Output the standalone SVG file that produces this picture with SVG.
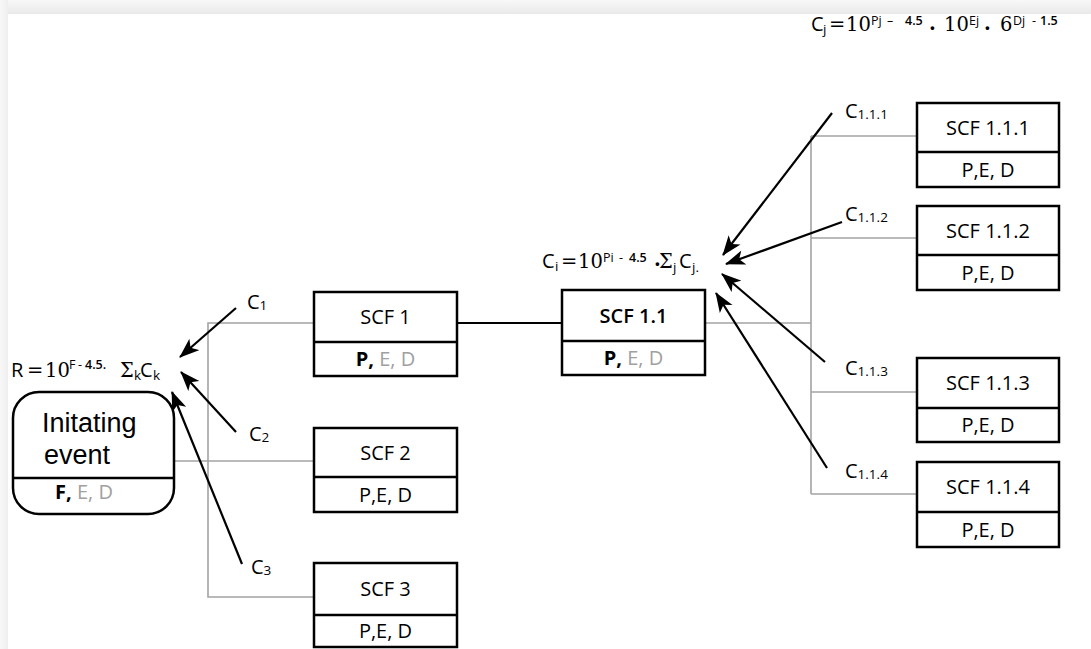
<svg xmlns="http://www.w3.org/2000/svg" width="1091" height="649" viewBox="0 0 1091 649">
<defs>
<linearGradient id="gTop" x1="0" y1="0" x2="0" y2="1"><stop offset="0" stop-color="#f8f8f8"/><stop offset="1" stop-color="#e9e9e9"/></linearGradient>
<linearGradient id="gLeft" x1="0" y1="0" x2="1" y2="0"><stop offset="0" stop-color="#f8f8f8"/><stop offset="1" stop-color="#eeeeee"/></linearGradient>
<marker id="ah" markerUnits="userSpaceOnUse" markerWidth="22" markerHeight="16" refX="19" refY="7.5" orient="auto"><path d="M0,0 L20,7.5 L0,15 L5,7.5 z" fill="#000"/></marker>
<style>
.box{fill:#fff;stroke:#000;stroke-width:2.5}
.div{stroke:#000;stroke-width:2.5}
.gl{stroke:#a3a3a3;stroke-width:1.6;fill:none}
.bl{stroke:#000;stroke-width:2;fill:none}
.ar{stroke:#000;stroke-width:2.2;fill:none;marker-end:url(#ah)}
.t{font-family:"Open Sans","Noto Sans",sans-serif;font-size:20px;fill:#000;text-anchor:middle}
.gr{fill:#a0a0a0}
.b{font-weight:700}
.sb{font-weight:600}
.lab{font-family:"Open Sans","Noto Sans",sans-serif;font-size:20px;fill:#000}
.sub{font-family:"Open Sans","Noto Sans",sans-serif;font-size:13.5px;fill:#000}
.fs{font-family:"Open Sans","Noto Sans",sans-serif;font-size:20px;fill:#000}
.fm{font-family:"DejaVu Serif","Liberation Serif",serif;font-size:19.5px;fill:#000}
.sup{font-family:"Open Sans","Noto Sans",sans-serif;font-size:12.5px;fill:#000}
.ev{font-family:"Liberation Sans",Arial,sans-serif;font-size:27px;fill:#000}
</style>
</defs>
<rect x="0" y="0" width="1091" height="649" fill="#fff"/>
<rect x="0" y="0" width="1091" height="14" fill="url(#gTop)"/>
<rect x="0" y="0" width="8" height="649" fill="url(#gLeft)"/>

<g id="connectors">
<line class="gl" x1="174" y1="461" x2="314" y2="461"/>
<polyline class="gl" points="314,323 208,323 208,597 314,597"/>
<line class="bl" x1="457" y1="323" x2="562" y2="323"/>
<line class="gl" x1="705" y1="323" x2="811" y2="323"/>
<line class="gl" x1="811" y1="136" x2="811" y2="494"/>
<line class="gl" x1="811" y1="136" x2="917" y2="136"/>
<line class="gl" x1="811" y1="238" x2="917" y2="238"/>
<line class="gl" x1="811" y1="392" x2="917" y2="392"/>
<line class="gl" x1="811" y1="494" x2="917" y2="494"/>
<line class="ar" x1="236" y1="308" x2="180" y2="357"/>
<line class="ar" x1="236" y1="432" x2="181" y2="372"/>
<line class="ar" x1="242" y1="564" x2="172" y2="392"/>
<line class="ar" x1="832" y1="113" x2="723" y2="255"/>
<line class="ar" x1="842" y1="222" x2="726" y2="264"/>
<line class="ar" x1="825" y1="362" x2="722" y2="274"/>
<line class="ar" x1="827" y1="468" x2="716" y2="293"/>
</g>

<g id="labels">
<text class="lab" x="247" y="309">C<tspan class="sub" dy="1">1</tspan></text>
<text class="lab" x="249" y="441">C<tspan class="sub" dy="1">2</tspan></text>
<text class="lab" x="251" y="574">C<tspan class="sub" dy="1">3</tspan></text>
<text class="lab" x="845" y="118">C<tspan class="sub" dy="1">1.1.1</tspan></text>
<text class="lab" x="845" y="221">C<tspan class="sub" dy="1">1.1.2</tspan></text>
<text class="lab" x="845" y="375">C<tspan class="sub" dy="1">1.1.3</tspan></text>
<text class="lab" x="845" y="478">C<tspan class="sub" dy="1">1.1.4</tspan></text>
</g>

<g id="formula-R">
<text class="fs" x="11" y="377">R</text>
<text class="fm" x="27" y="377">=</text>
<text class="fm" x="45" y="377">10</text>
<text class="sup" x="69" y="369" font-size="11">F</text>
<text class="sup" x="78" y="369" font-size="11">-</text>
<text class="sup sb" x="85" y="369" font-size="11">4.5.</text>
<text class="fm" x="120" y="377" font-size="16">Σ</text>
<text class="sub" x="134" y="380" font-size="11">k</text>
<text class="fs" x="140" y="377">C</text>
<text class="sub" x="153" y="380" font-size="11">k</text>
</g>

<g id="formula-Ci">
<text class="fs" x="542" y="268">C</text>
<text class="sub" x="555" y="271" font-size="12">i</text>
<text class="fm" x="561" y="268">=</text>
<text class="fm" x="578" y="268">10</text>
<text class="sup" x="603" y="262">Pi</text>
<text class="sup" x="619" y="262">-</text>
<text class="sup sb" x="629" y="262">4.5</text>
<text class="fm b" x="654" y="266">.</text>
<text class="fm" x="659" y="268" font-size="16">Σ</text>
<text class="sub" x="673" y="272" font-size="12">j</text>
<text class="fs" x="679" y="268">C</text>
<text class="sub" x="692" y="272" font-size="12">j.</text>
</g>

<g id="formula-Cj">
<text class="fs" x="811" y="31">C</text>
<text class="sub" x="823" y="34" font-size="12">j</text>
<text class="fm" x="829" y="31">=</text>
<text class="fm" x="846" y="31">10</text>
<text class="sup" x="871" y="25">Pj</text>
<text class="sup" x="887" y="25">–</text>
<text class="sup sb" x="905" y="25">4.5</text>
<text class="fm b" x="929" y="30">.</text>
<text class="fm" x="944" y="31">10</text>
<text class="sup" x="969" y="25">Ej</text>
<text class="fm b" x="984" y="30">.</text>
<text class="fm" x="1000" y="31">6</text>
<text class="sup" x="1013" y="25">Dj</text>
<text class="sup" x="1032" y="25">-</text>
<text class="sup sb" x="1040" y="25">1.5</text>
</g>

<g id="initiating-event">
<rect class="box" x="13" y="392" width="161" height="122" rx="26" ry="26"/>
<line class="div" x1="13" y1="478" x2="174" y2="478"/>
<text class="ev" x="42" y="432">Initating</text>
<text class="ev" x="44" y="464">event</text>
<text class="t" x="84" y="499"><tspan class="b">F,</tspan><tspan class="gr"> E, D</tspan></text>
</g>

<g id="scf1">
<rect class="box" x="314" y="292" width="143" height="84"/>
<line class="div" x1="314" y1="342" x2="457" y2="342"/>
<text class="t" x="385.5" y="324">SCF 1</text>
<text class="t" x="385.5" y="366"><tspan class="b">P,</tspan><tspan class="gr"> E, D</tspan></text>
</g>

<g id="scf2">
<rect class="box" x="314" y="428" width="143" height="84"/>
<line class="div" x1="314" y1="477" x2="457" y2="477"/>
<text class="t" x="385.5" y="460">SCF 2</text>
<text class="t" x="385.5" y="502">P,E, D</text>
</g>

<g id="scf3">
<rect class="box" x="314" y="563" width="143" height="84"/>
<line class="div" x1="314" y1="615" x2="457" y2="615"/>
<text class="t" x="385.5" y="596">SCF 3</text>
<text class="t" x="385.5" y="638">P,E, D</text>
</g>

<g id="scf1-1">
<rect class="box" x="562" y="290" width="143" height="85"/>
<line class="div" x1="562" y1="341" x2="705" y2="341"/>
<text class="t sb" x="633.5" y="323">SCF 1.1</text>
<text class="t" x="633.5" y="365"><tspan class="b">P,</tspan><tspan class="gr"> E, D</tspan></text>
</g>

<g id="scf1-1-1">
<rect class="box" x="917" y="103" width="142" height="84"/>
<line class="div" x1="917" y1="152" x2="1059" y2="152"/>
<text class="t" x="988" y="135">SCF 1.1.1</text>
<text class="t" x="988" y="177">P,E, D</text>
</g>

<g id="scf1-1-2">
<rect class="box" x="917" y="206" width="142" height="84"/>
<line class="div" x1="917" y1="255" x2="1059" y2="255"/>
<text class="t" x="988" y="238">SCF 1.1.2</text>
<text class="t" x="988" y="280">P,E, D</text>
</g>

<g id="scf1-1-3">
<rect class="box" x="917" y="358" width="142" height="84"/>
<line class="div" x1="917" y1="408" x2="1059" y2="408"/>
<text class="t" x="988" y="390">SCF 1.1.3</text>
<text class="t" x="988" y="432">P,E, D</text>
</g>

<g id="scf1-1-4">
<rect class="box" x="917" y="462" width="142" height="85"/>
<line class="div" x1="917" y1="512" x2="1059" y2="512"/>
<text class="t" x="988" y="494">SCF 1.1.4</text>
<text class="t" x="988" y="537">P,E, D</text>
</g>
</svg>
